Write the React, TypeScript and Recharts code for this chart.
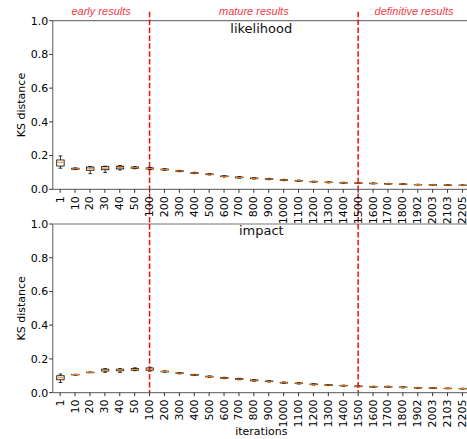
import { ComposedChart, Bar, XAxis, YAxis, ReferenceLine, Label } from "recharts";

const ITERATIONS = [
  "1", "10", "20", "30", "40", "50", "100", "200", "300", "400", "500", "600", "700", "800",
  "900", "1000", "1100", "1200", "1300", "1400", "1500", "1600", "1700", "1800", "1902", "2003", "2103", "2205",
];

// [min, q1, median, q3, max] per iteration
const LIKELIHOOD = [
  [0.125, 0.138, 0.16, 0.174, 0.198],
  [0.117, 0.119, 0.122, 0.125, 0.127],
  [0.093, 0.113, 0.122, 0.132, 0.135],
  [0.1, 0.116, 0.125, 0.134, 0.137],
  [0.115, 0.121, 0.129, 0.137, 0.141],
  [0.122, 0.125, 0.128, 0.132, 0.134],
  [0.117, 0.12, 0.123, 0.127, 0.13],
  [0.113, 0.115, 0.117, 0.12, 0.122],
  [0.104, 0.106, 0.108, 0.11, 0.112],
  [0.093, 0.095, 0.097, 0.099, 0.101],
  [0.085, 0.087, 0.089, 0.091, 0.093],
  [0.073, 0.075, 0.077, 0.079, 0.081],
  [0.066, 0.068, 0.07, 0.073, 0.075],
  [0.061, 0.063, 0.065, 0.067, 0.069],
  [0.057, 0.059, 0.061, 0.063, 0.065],
  [0.051, 0.053, 0.055, 0.057, 0.059],
  [0.048, 0.049, 0.051, 0.053, 0.054],
  [0.042, 0.044, 0.045, 0.047, 0.048],
  [0.038, 0.04, 0.041, 0.043, 0.044],
  [0.036, 0.038, 0.039, 0.04, 0.042],
  [0.034, 0.036, 0.037, 0.038, 0.04],
  [0.032, 0.034, 0.035, 0.036, 0.038],
  [0.031, 0.032, 0.033, 0.034, 0.035],
  [0.028, 0.03, 0.031, 0.032, 0.034],
  [0.026, 0.027, 0.028, 0.029, 0.03],
  [0.025, 0.026, 0.027, 0.028, 0.029],
  [0.023, 0.024, 0.025, 0.026, 0.027],
  [0.022, 0.023, 0.024, 0.025, 0.026],
];

const IMPACT = [
  [0.06, 0.076, 0.088, 0.1, 0.11],
  [0.104, 0.105, 0.107, 0.108, 0.109],
  [0.118, 0.119, 0.12, 0.121, 0.122],
  [0.12, 0.128, 0.133, 0.139, 0.142],
  [0.12, 0.129, 0.134, 0.139, 0.142],
  [0.13, 0.133, 0.136, 0.142, 0.147],
  [0.128, 0.133, 0.14, 0.146, 0.15],
  [0.121, 0.123, 0.125, 0.127, 0.129],
  [0.111, 0.113, 0.115, 0.117, 0.119],
  [0.101, 0.103, 0.105, 0.107, 0.108],
  [0.091, 0.093, 0.095, 0.097, 0.099],
  [0.083, 0.085, 0.087, 0.089, 0.091],
  [0.076, 0.078, 0.08, 0.083, 0.085],
  [0.068, 0.07, 0.073, 0.075, 0.077],
  [0.063, 0.065, 0.067, 0.069, 0.071],
  [0.055, 0.057, 0.059, 0.061, 0.063],
  [0.051, 0.053, 0.055, 0.057, 0.059],
  [0.045, 0.047, 0.049, 0.051, 0.053],
  [0.042, 0.043, 0.045, 0.047, 0.048],
  [0.038, 0.04, 0.041, 0.043, 0.044],
  [0.034, 0.035, 0.037, 0.039, 0.041],
  [0.032, 0.034, 0.035, 0.036, 0.038],
  [0.032, 0.033, 0.035, 0.037, 0.038],
  [0.028, 0.03, 0.031, 0.033, 0.034],
  [0.026, 0.028, 0.029, 0.03, 0.031],
  [0.025, 0.026, 0.027, 0.028, 0.029],
  [0.023, 0.024, 0.025, 0.026, 0.027],
  [0.021, 0.023, 0.024, 0.025, 0.026],
];

const Y_TICKS = [0, 0.2, 0.4, 0.6, 0.8, 1.0];
const PHASE_BOUNDS = ["100", "1500"];
const PHASES = ["early results", "mature results", "definitive results"];

const rows = ITERATIONS.map((it, i) => ({ iteration: it, lik: LIKELIHOOD[i], imp: IMPACT[i] }));

const FONT = "DejaVu Sans";
const FS = 11;
const SPINE = "#777";
const CHART_W = 475;
const PLOT_L = 52.7;
const PLOT_R = 469.9;
const PLOT_H = 168.6;
const TOP_H = 224; // top chart height; bottom plot starts here
const TOP_MARGIN = 20.7;
const BOT_PAD = 12; // bottom chart svg starts this much above its plot
const LINE_TOP = 11.7; // where dashed phase lines begin

const BoxShape = (props: any) => {
  const { x, y, width, height, payload, statKey } = props;
  const [mn, q1, med, q3, mx] = payload[statKey] as number[];
  const top = Math.min(y, y + height);
  const h = Math.abs(height);
  const py = (v: number) => (mx === mn ? top : top + ((mx - v) / (mx - mn)) * h);
  const cx = x + width / 2;
  const cap = width / 4;
  const s = { stroke: "#000", strokeWidth: 0.8 };
  return (
    <g>
      <line x1={cx} x2={cx} y1={py(mx)} y2={py(q3)} {...s} />
      <line x1={cx} x2={cx} y1={py(q1)} y2={py(mn)} {...s} />
      <line x1={cx - cap} x2={cx + cap} y1={py(mx)} y2={py(mx)} {...s} />
      <line x1={cx - cap} x2={cx + cap} y1={py(mn)} y2={py(mn)} {...s} />
      <rect x={x} y={py(q3)} width={width} height={Math.max(py(q1) - py(q3), 0.5)} fill="none" {...s} />
      <line x1={x} x2={x + width} y1={py(med)} y2={py(med)} stroke="#ff7f0e" strokeWidth={1} />
    </g>
  );
};

const RotTick = (props: any) => {
  const { x, y, payload } = props;
  return (
    <text x={x} y={y} transform={`rotate(-90 ${x} ${y})`} textAnchor="end" dominantBaseline="central"
      fontSize={FS} fontFamily={FONT} fill="#000">
      {payload.value}
    </text>
  );
};

const YLab = (props: any) => {
  const vb = props.viewBox;
  const cx = 21.7;
  const cy = vb.y + vb.height / 2;
  return (
    <text x={cx} y={cy} transform={`rotate(-90 ${cx} ${cy})`} textAnchor="middle" dominantBaseline="central"
      fontSize={FS} fontFamily={FONT} fill="#000">
      KS distance
    </text>
  );
};

const XLab = (props: any) => {
  const vb = props.viewBox;
  return (
    <text x={vb.x + vb.width / 2} y={vb.y + vb.height - 4} textAnchor="middle" fontSize={FS} fontFamily={FONT} fill="#000">
      iterations
    </text>
  );
};

function Panel({ statKey, height, marginTop, xAxisHeight, lineFrom, lineTo, showXLabel }: any) {
  return (
    <ComposedChart width={CHART_W} height={height} data={rows}
      margin={{ top: marginTop, right: CHART_W - PLOT_R, bottom: 0, left: 0 }}>
      <XAxis dataKey="iteration" interval={0} height={xAxisHeight} tick={<RotTick />} tickSize={3.5} tickMargin={3.5}
        axisLine={{ stroke: SPINE, strokeWidth: 1.2 }} tickLine={{ stroke: "#333" }}>
        {showXLabel && <Label content={<XLab />} />}
      </XAxis>
      <YAxis type="number" domain={[0, 1]} ticks={Y_TICKS} width={PLOT_L} tickSize={3.5} tickMargin={1}
        tickFormatter={(v: number) => v.toFixed(1)} allowDataOverflow
        tick={{ fontSize: FS, fontFamily: FONT, fill: "#000" }}
        axisLine={{ stroke: SPINE, strokeWidth: 1.2 }} tickLine={{ stroke: "#333" }}>
        <Label content={<YLab />} />
      </YAxis>
      <ReferenceLine y={1} stroke={SPINE} strokeWidth={1.2} />
      <Bar dataKey={(d: any) => [d[statKey][0], d[statKey][4]]} barSize={7.45} isAnimationActive={false}
        shape={(p: any) => <BoxShape {...p} statKey={statKey} />} />
      {PHASE_BOUNDS.map((b) => (
        <ReferenceLine key={b} ifOverflow="visible" stroke="#ee1111" strokeWidth={1.5} strokeDasharray="5.5 2.4"
          segment={[{ x: b, y: lineFrom }, { x: b, y: lineTo }]} />
      ))}
    </ComposedChart>
  );
}

export default function App() {
  const band = (PLOT_R - PLOT_L) / ITERATIONS.length;
  const xOf = (label: string) => PLOT_L + (ITERATIONS.indexOf(label) + 0.5) * band;
  const edges = [PLOT_L, ...PHASE_BOUNDS.map(xOf), PLOT_R];
  const midX = (PLOT_L + PLOT_R) / 2;
  const topBottom = TOP_MARGIN + PLOT_H;
  const botTop = TOP_H - BOT_PAD;
  return (
    <div style={{ position: "absolute", left: 0, top: 0, width: 467, height: 439, overflow: "hidden", background: "#fff" }}>
      <div style={{ position: "absolute", left: 0, top: 0 }}>
        <Panel statKey="lik" height={TOP_H} marginTop={TOP_MARGIN} xAxisHeight={TOP_H - topBottom}
          lineFrom={1 + (TOP_MARGIN - LINE_TOP) / PLOT_H} lineTo={-(TOP_H - topBottom) / PLOT_H} />
      </div>
      <div style={{ position: "absolute", left: 0, top: botTop }}>
        <Panel statKey="imp" height={439 - botTop} marginTop={BOT_PAD} xAxisHeight={439 - TOP_H - PLOT_H}
          lineFrom={1} lineTo={0} showXLabel />
      </div>
      <svg width={467} height={439} style={{ position: "absolute", left: 0, top: 0, pointerEvents: "none" }}>
        {PHASES.map((p, i) => (
          <text key={p} x={(edges[i] + edges[i + 1]) / 2} y={14.5} textAnchor="middle" fontSize={11}
            fontStyle="italic" fontFamily="Liberation Sans" fill="#f03c46">
            {p}
          </text>
        ))}
        <text x={midX} y={33.2} textAnchor="middle" fontSize={13} fontFamily={FONT} fill="#111">likelihood</text>
        <text x={midX} y={234.5} textAnchor="middle" fontSize={13} fontFamily={FONT} fill="#111">impact</text>
      </svg>
    </div>
  );
}
